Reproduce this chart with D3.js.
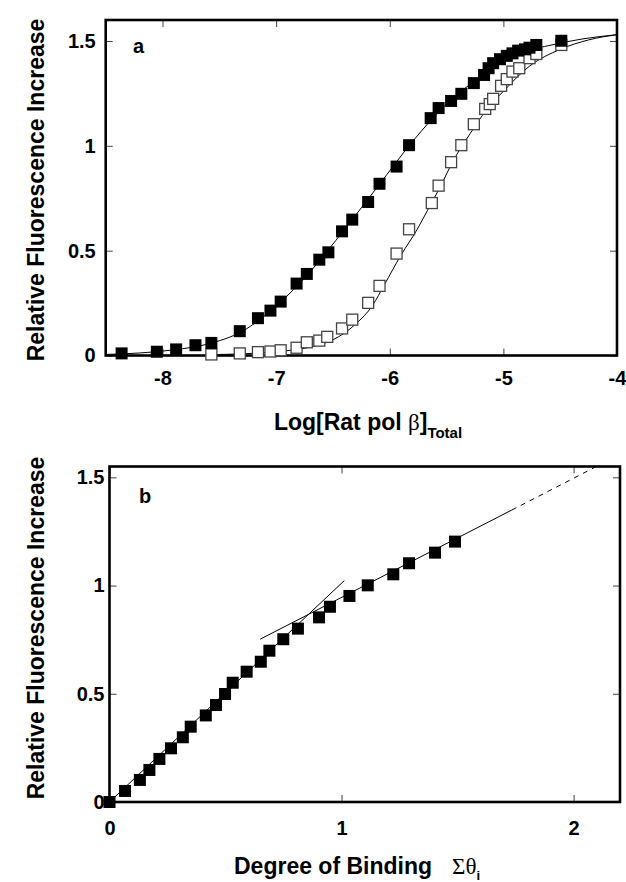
<!DOCTYPE html>
<html>
<head>
<meta charset="utf-8">
<script src="https://cdn.jsdelivr.net/npm/d3@7"></script>
<style>
    body { margin: 0; background: #fff; }
    svg text { font-family: "Liberation Sans", Arial, Helvetica, sans-serif; font-weight: bold; fill: #000; }
</style>
</head>
<body>
<div id="chartArea"></div>
<script>
// Panel a: titration, log of total rat pol beta vs relative fluorescence increase
const filledLogX = [-8.36, -8.05, -7.88, -7.71, -7.57, -7.32, -7.16, -7.05, -6.96, -6.82, -6.73, -6.62, -6.54, -6.42, -6.33, -6.19, -6.09, -5.94, -5.83, -5.64, -5.57, -5.46, -5.37, -5.26, -5.17, -5.13, -5.09, -5.03, -4.97, -4.92, -4.87, -4.81, -4.77, -4.71, -4.49];
const filledY = [0.01, 0.018, 0.029, 0.049, 0.06, 0.116, 0.178, 0.214, 0.257, 0.343, 0.389, 0.457, 0.492, 0.592, 0.648, 0.732, 0.819, 0.901, 1.003, 1.132, 1.18, 1.214, 1.248, 1.299, 1.338, 1.37, 1.394, 1.413, 1.429, 1.441, 1.454, 1.46, 1.468, 1.481, 1.501];
const openLogX = [-7.57, -7.32, -7.16, -7.05, -6.96, -6.82, -6.73, -6.62, -6.55, -6.42, -6.33, -6.19, -6.09, -5.94, -5.83, -5.63, -5.57, -5.46, -5.37, -5.26, -5.16, -5.12, -5.09, -5.02, -4.97, -4.92, -4.86, -4.77, -4.71, -4.49];
const openY = [0.005, 0.01, 0.016, 0.019, 0.025, 0.037, 0.063, 0.071, 0.089, 0.129, 0.171, 0.251, 0.332, 0.486, 0.602, 0.727, 0.81, 0.922, 1.003, 1.103, 1.176, 1.199, 1.224, 1.286, 1.318, 1.354, 1.37, 1.418, 1.438, 1.481];

// fitted curves
const fitFilledX = [-8.5, -8.2, -7.9, -7.6, -7.3, -7.0, -6.7, -6.4, -6.1, -5.8, -5.5, -5.2, -4.9, -4.6, -4.3, -4.0];
const fitFilledY = [0.005, 0.012, 0.027, 0.055, 0.115, 0.235, 0.40, 0.60, 0.81, 1.02, 1.20, 1.33, 1.435, 1.478, 1.51, 1.53];
const fitOpenX = [-7.6, -7.3, -7.0, -6.7, -6.5, -6.3, -6.15, -6.05, -5.9, -5.76, -5.67, -5.56, -5.44, -5.29, -5.15, -5.0, -4.77, -4.5, -4.25, -4.0];
const fitOpenY = [0.004, 0.008, 0.018, 0.04, 0.075, 0.15, 0.24, 0.335, 0.48, 0.6, 0.69, 0.8, 0.93, 1.06, 1.17, 1.26, 1.38, 1.46, 1.505, 1.53];

// Panel b: degree of binding vs relative fluorescence increase
const bindX = [0, 0.067, 0.131, 0.172, 0.215, 0.265, 0.316, 0.35, 0.415, 0.459, 0.498, 0.531, 0.591, 0.652, 0.689, 0.749, 0.812, 0.903, 0.95, 1.034, 1.113, 1.223, 1.291, 1.403, 1.489];
const bindY = [0, 0.051, 0.102, 0.148, 0.199, 0.248, 0.299, 0.348, 0.4, 0.448, 0.499, 0.551, 0.602, 0.648, 0.699, 0.752, 0.801, 0.853, 0.902, 0.952, 1.001, 1.052, 1.103, 1.152, 1.203];
const initialLineX = [0, 1.012];
const initialLineY = [0, 1.023];
const laterLineX = [0.649, 1.734];
const laterLineY = [0.752, 1.349];
const extrapLineX = [1.734, 2.093];
const extrapLineY = [1.349, 1.547];

// tick values
const aXTicks = [-8, -7, -6, -5, -4];
const aYTicks = [0, 0.5, 1, 1.5];
const bXTicks = [0, 1, 2];
const bYTicks = [0, 0.5, 1, 1.5];

document.addEventListener("DOMContentLoaded", function() {
    const svg = d3.select('#chartArea')
        .append('svg')
        .attr('width', 626)
        .attr('height', 882);

    const fmt = d => String(d);

    // axes with inward ticks on all four sides plus a heavy frame
    function drawAxes(x, y, xTicks, yTicks, xPad, yPad) {
        const [x0, x1] = x.range();
        const [y0, y1] = y.range();

        const styleAxis = g => {
            g.attr('font-size', 20).attr('font-family', null);
            g.select('.domain').remove();
            g.selectAll('.tick line').attr('stroke', '#444').attr('stroke-width', 1);
        };

        svg.append('g')
            .attr('transform', `translate(0,${y0})`)
            .call(d3.axisBottom(x).tickValues(xTicks).tickSize(-7).tickPadding(xPad).tickFormat(fmt))
            .call(styleAxis);
        svg.append('g')
            .attr('transform', `translate(0,${y1})`)
            .call(d3.axisTop(x).tickValues(xTicks).tickSize(-7).tickFormat(''))
            .call(styleAxis);
        svg.append('g')
            .attr('transform', `translate(${x0},0)`)
            .call(d3.axisLeft(y).tickValues(yTicks).tickSize(-7).tickPadding(yPad).tickFormat(fmt))
            .call(styleAxis);
        svg.append('g')
            .attr('transform', `translate(${x1},0)`)
            .call(d3.axisRight(y).tickValues(yTicks).tickSize(-7).tickFormat(''))
            .call(styleAxis);

        svg.append('rect')
            .attr('x', x0)
            .attr('y', y1)
            .attr('width', x1 - x0)
            .attr('height', y0 - y1)
            .attr('fill', 'none')
            .attr('stroke', '#000')
            .attr('stroke-width', 2.6);
    }

    function drawLine(x, y, xs, ys, dashed) {
        const line = d3.line()
            .x(d => x(d[0]))
            .y(d => y(d[1]))
            .curve(d3.curveMonotoneX);
        svg.append('path')
            .datum(d3.zip(xs, ys))
            .attr('d', line)
            .attr('fill', 'none')
            .attr('stroke', '#000')
            .attr('stroke-width', 1)
            .attr('stroke-dasharray', dashed ? '5,5' : null);
    }

    function drawSquares(x, y, xs, ys, filled) {
        const s = filled ? 12 : 11;
        svg.append('g')
            .selectAll('rect')
            .data(d3.zip(xs, ys))
            .enter()
            .append('rect')
            .attr('x', d => x(d[0]) - s / 2)
            .attr('y', d => y(d[1]) - s / 2)
            .attr('width', s)
            .attr('height', s)
            .attr('fill', filled ? '#000' : '#fff')
            .attr('stroke', filled ? 'none' : '#444')
            .attr('stroke-width', 1.3);
    }

    function drawPanelA() {
        const x = d3.scaleLinear().domain([-8.5, -4]).range([105.7, 617]);
        const y = d3.scaleLinear().domain([0, 1.6]).range([355.5, 20]);

        drawAxes(x, y, aXTicks, aYTicks, 15, 10);

        drawLine(x, y, fitOpenX, fitOpenY, false);
        drawLine(x, y, fitFilledX, fitFilledY, false);
        drawSquares(x, y, openLogX, openY, false);
        drawSquares(x, y, filledLogX, filledY, true);

        svg.append('text')
            .attr('x', 133).attr('y', 53)
            .attr('font-size', 20)
            .text('a');

        // x axis title with a serif beta and a subscript
        const t = svg.append('text')
            .attr('x', 368).attr('y', 430)
            .attr('text-anchor', 'middle')
            .attr('font-size', 23);
        t.append('tspan').text('Log[Rat pol ');
        t.append('tspan').style('font-family', '"Liberation Serif", "Times New Roman", serif').style('font-weight', 'normal').text('β');
        t.append('tspan').text(']');
        t.append('tspan').attr('dy', 8).attr('font-size', 15).text('Total');

        svg.append('text')
            .attr('transform', 'translate(44,190) rotate(-90)')
            .attr('text-anchor', 'middle')
            .attr('font-size', 23)
            .text('Relative Fluorescence Increase');
    }

    function drawPanelB() {
        const x = d3.scaleLinear().domain([0, 2.2]).range([109.5, 620]);
        const y = d3.scaleLinear().domain([0, 1.55]).range([802, 466.5]);

        drawAxes(x, y, bXTicks, bYTicks, 19, 5);

        drawLine(x, y, initialLineX, initialLineY, false);
        drawLine(x, y, laterLineX, laterLineY, false);
        drawLine(x, y, extrapLineX, extrapLineY, true);
        drawSquares(x, y, bindX, bindY, true);

        svg.append('text')
            .attr('x', 139).attr('y', 503)
            .attr('font-size', 20)
            .text('b');

        const t = svg.append('text')
            .attr('x', 234).attr('y', 874)
            .attr('font-size', 23);
        t.append('tspan').text('Degree of Binding');
        t.append('tspan').attr('dx', 20).style('font-family', '"Liberation Serif", "Times New Roman", serif').style('font-weight', 'normal').text('Σθ');
        t.append('tspan').attr('dy', 6).attr('font-size', 13).text('i');

        svg.append('text')
            .attr('transform', 'translate(44,628) rotate(-90)')
            .attr('text-anchor', 'middle')
            .attr('font-size', 23)
            .text('Relative Fluorescence Increase');
    }

    drawPanelA();
    drawPanelB();
});
</script>
</body>
</html>
